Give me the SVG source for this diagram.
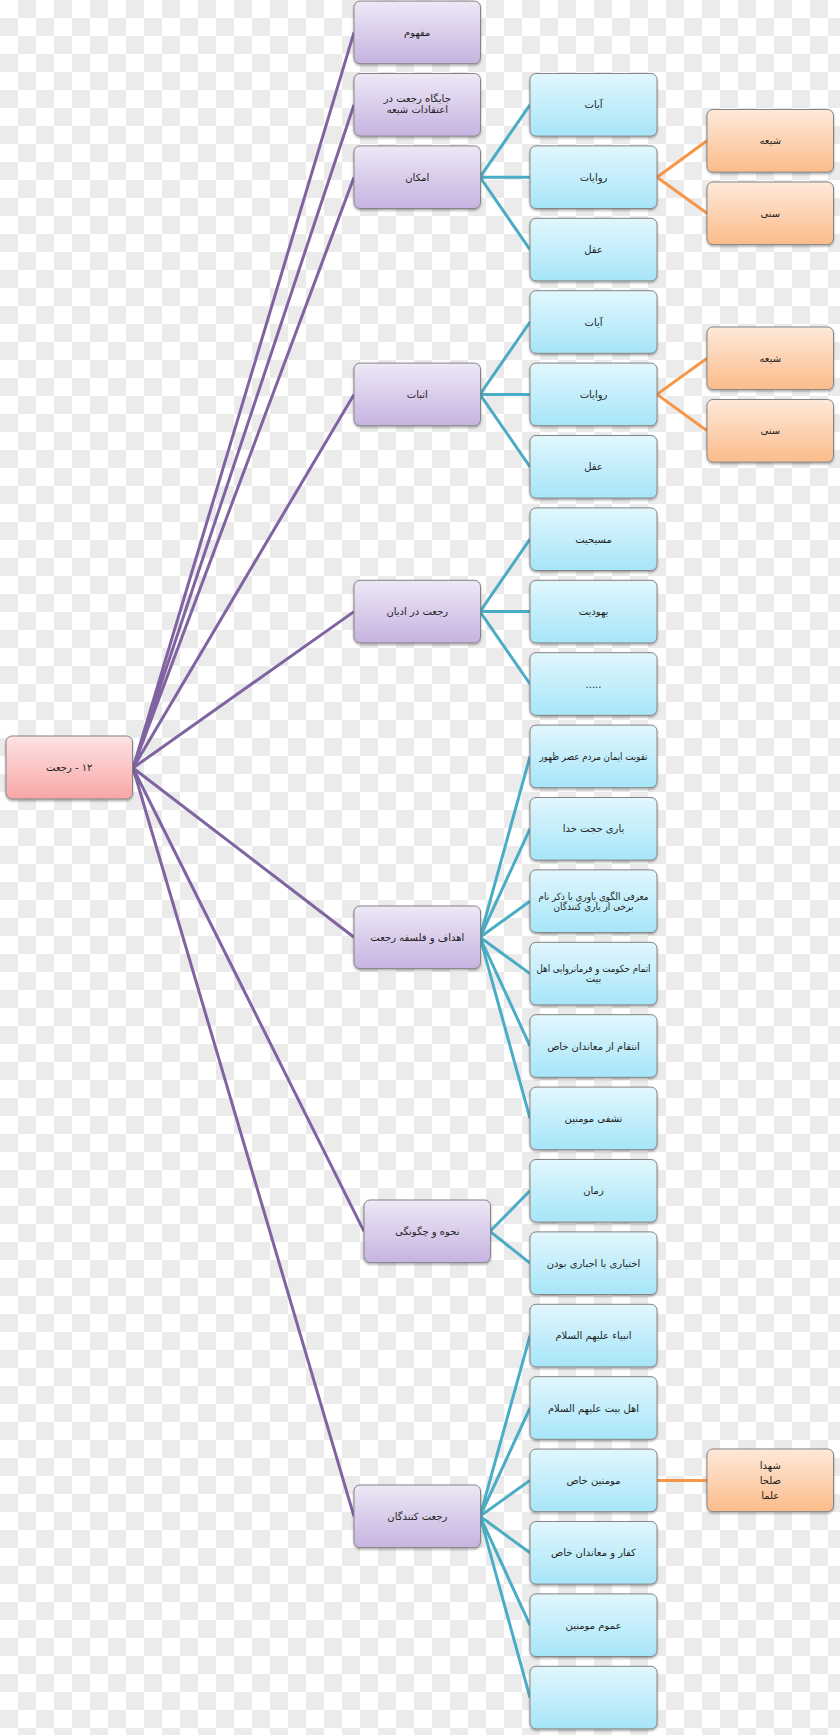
<svg xmlns="http://www.w3.org/2000/svg" width="840" height="1735" viewBox="0 0 840 1735">
<defs>
<pattern id="chk" width="36" height="36" patternUnits="userSpaceOnUse">
<rect width="36" height="36" fill="#ffffff"/>
<rect x="18" y="0" width="18" height="18" fill="#ebebeb"/>
<rect x="0" y="18" width="18" height="18" fill="#ebebeb"/>
</pattern>
<linearGradient id="gPink" x1="0" y1="0" x2="0" y2="1"><stop offset="0" stop-color="#fde3e3"/><stop offset="1" stop-color="#f8a6a6"/></linearGradient>
<linearGradient id="gPurple" x1="0" y1="0" x2="0" y2="1"><stop offset="0" stop-color="#eee8f6"/><stop offset="1" stop-color="#c6b3e0"/></linearGradient>
<linearGradient id="gBlue" x1="0" y1="0" x2="0" y2="1"><stop offset="0" stop-color="#e2f7fd"/><stop offset="1" stop-color="#a6e5f8"/></linearGradient>
<linearGradient id="gOrange" x1="0" y1="0" x2="0" y2="1"><stop offset="0" stop-color="#fee9da"/><stop offset="1" stop-color="#fbbc8a"/></linearGradient>
<filter id="sh" x="-10%" y="-10%" width="120%" height="130%">
<feDropShadow dx="0" dy="1.5" stdDeviation="1" flood-color="#000" flood-opacity="0.35"/>
</filter>
</defs>
<style>
.bx{stroke:#858585;stroke-width:1;filter:url(#sh)}
.pk{fill:url(#gPink)}
.pu{fill:url(#gPurple)}
.bl{fill:url(#gBlue)}
.or{fill:url(#gOrange)}
text{font-family:"DejaVu Sans","Noto Sans",sans-serif;font-size:10px;fill:#1e1e1e;text-anchor:middle;direction:rtl;unicode-bidi:embed}
.cp{stroke:#8064a2;stroke-width:3;fill:none}
.cb{stroke:#4bacc6;stroke-width:3;fill:none}
.co{stroke:#f79646;stroke-width:3;fill:none}
</style>
<rect width="840" height="1735" fill="url(#chk)"/>

<g id="connectors">
<path class="cp" d="M133 768L354 32.4M133 768L354 104.8M133 768L354 177.2M133 768L354 394.4M133 768L354 611.6M133 768L354 937.3M133 768L364 1231.3M133 768L354 1516.3"/>
<path class="cb" d="M480 177.2L530 104.8M480 177.2L530 177.2M480 177.2L530 249.6"/>
<path class="cb" d="M480 394.4L530 322M480 394.4L530 394.4M480 394.4L530 466.8"/>
<path class="cb" d="M480 611.6L530 539.2M480 611.6L530 611.6M480 611.6L530 684"/>
<path class="cb" d="M480 937.3L530 756.4M480 937.3L530 828.8M480 937.3L530 901.2M480 937.3L530 973.6M480 937.3L530 1046M480 937.3L530 1118.4"/>
<path class="cb" d="M490 1231.3L530 1190.8M490 1231.3L530 1263.2"/>
<path class="cb" d="M480 1516.3L530 1335.6M480 1516.3L530 1408M480 1516.3L530 1480.4M480 1516.3L530 1552.8M480 1516.3L530 1625.2M480 1516.3L530 1697.6"/>
<path class="co" d="M657 177.2L707 140.8M657 177.2L707 213.3"/>
<path class="co" d="M657 394.4L707 358.3M657 394.4L707 430.8"/>
<path class="co" d="M657 1480.4L707 1480.4"/>
</g>

<g id="root"><rect class="bx pk" x="6" y="736" width="126.5" height="63" rx="6"/><text x="69.3" y="771">۱۲ - رجعت</text></g>

<g id="p1"><rect class="bx pu" x="354" y="1.1" width="126.5" height="62.6" rx="6"/><text x="417.3" y="35.9">مفهوم</text></g>
<g id="p2"><rect class="bx pu" x="354" y="73.5" width="126.5" height="62.6" rx="6"/><text x="417.3" y="102">جایگاه رجعت در</text><text x="417.3" y="113">اعتقادات شیعه</text></g>
<g id="p3"><rect class="bx pu" x="354" y="145.9" width="126.5" height="62.6" rx="6"/><text x="417.3" y="180.7">امکان</text></g>
<g id="p4"><rect class="bx pu" x="354" y="363.1" width="126.5" height="62.6" rx="6"/><text x="417.3" y="397.9">اثبات</text></g>
<g id="p5"><rect class="bx pu" x="354" y="580.3" width="126.5" height="62.6" rx="6"/><text x="417.3" y="615.1">رجعت در ادیان</text></g>
<g id="p6"><rect class="bx pu" x="354" y="906" width="126.5" height="62.6" rx="6"/><text x="417.3" y="940.8">اهداف و فلسفه رجعت</text></g>
<g id="p7"><rect class="bx pu" x="364" y="1200" width="126.5" height="62.6" rx="6"/><text x="427.3" y="1234.8">نحوه و  چگونگی</text></g>
<g id="p8"><rect class="bx pu" x="354" y="1485" width="126.5" height="62.6" rx="6"/><text x="417.3" y="1519.8">رجعت کنندگان</text></g>

<g id="b0"><rect class="bx bl" x="530" y="73.5" width="127" height="62.6" rx="6"/><text x="593.5" y="108.3">آیات</text></g>
<g id="b1"><rect class="bx bl" x="530" y="145.9" width="127" height="62.6" rx="6"/><text x="593.5" y="180.7">روایات</text></g>
<g id="b2"><rect class="bx bl" x="530" y="218.3" width="127" height="62.6" rx="6"/><text x="593.5" y="253.1">عقل</text></g>
<g id="b3"><rect class="bx bl" x="530" y="290.7" width="127" height="62.6" rx="6"/><text x="593.5" y="325.5">آیات</text></g>
<g id="b4"><rect class="bx bl" x="530" y="363.1" width="127" height="62.6" rx="6"/><text x="593.5" y="397.9">روایات</text></g>
<g id="b5"><rect class="bx bl" x="530" y="435.5" width="127" height="62.6" rx="6"/><text x="593.5" y="470.3">عقل</text></g>
<g id="b6"><rect class="bx bl" x="530" y="507.9" width="127" height="62.6" rx="6"/><text x="593.5" y="542.7">مسیحیت</text></g>
<g id="b7"><rect class="bx bl" x="530" y="580.3" width="127" height="62.6" rx="6"/><text x="593.5" y="615.1">یهودیت</text></g>
<g id="b8"><rect class="bx bl" x="530" y="652.7" width="127" height="62.6" rx="6"/><text x="593.5" y="687.5">.....</text></g>
<g id="b9"><rect class="bx bl" x="530" y="725.1" width="127" height="62.6" rx="6"/><text x="593.5" y="759.9" textLength="108" lengthAdjust="spacingAndGlyphs">تقویت ایمان مردم عصر ظهور</text></g>
<g id="b10"><rect class="bx bl" x="530" y="797.5" width="127" height="62.6" rx="6"/><text x="593.5" y="832.3">یاری حجت خدا</text></g>
<g id="b11"><rect class="bx bl" x="530" y="869.9" width="127" height="62.6" rx="6"/><text x="593.5" y="899.5" textLength="110" lengthAdjust="spacingAndGlyphs">معرفی الگوی یاوری با ذکر نام</text><text x="593.5" y="910" textLength="80" lengthAdjust="spacingAndGlyphs">برخی از یاری کنندگان</text></g>
<g id="b12"><rect class="bx bl" x="530" y="942.3" width="127" height="62.6" rx="6"/><text x="593.5" y="971.5" textLength="114" lengthAdjust="spacingAndGlyphs">اتمام حکومت و   فرمانروایی اهل</text><text x="593.5" y="982">بیت</text></g>
<g id="b13"><rect class="bx bl" x="530" y="1014.7" width="127" height="62.6" rx="6"/><text x="593.5" y="1049.5">انتقام از معاندان خاص</text></g>
<g id="b14"><rect class="bx bl" x="530" y="1087.1" width="127" height="62.6" rx="6"/><text x="593.5" y="1121.9">تشفی مومنین</text></g>
<g id="b15"><rect class="bx bl" x="530" y="1159.5" width="127" height="62.6" rx="6"/><text x="593.5" y="1194.3">زمان</text></g>
<g id="b16"><rect class="bx bl" x="530" y="1231.9" width="127" height="62.6" rx="6"/><text x="593.5" y="1266.7">اختیاری یا اجباری بودن</text></g>
<g id="b17"><rect class="bx bl" x="530" y="1304.3" width="127" height="62.6" rx="6"/><text x="593.5" y="1339.1">انبیاء علیهم السلام</text></g>
<g id="b18"><rect class="bx bl" x="530" y="1376.7" width="127" height="62.6" rx="6"/><text x="593.5" y="1411.5">اهل بیت علیهم السلام</text></g>
<g id="b19"><rect class="bx bl" x="530" y="1449.1" width="127" height="62.6" rx="6"/><text x="593.5" y="1483.9">مومنین خاص</text></g>
<g id="b20"><rect class="bx bl" x="530" y="1521.5" width="127" height="62.6" rx="6"/><text x="593.5" y="1556.3">کفار و معاندان خاص</text></g>
<g id="b21"><rect class="bx bl" x="530" y="1593.9" width="127" height="62.6" rx="6"/><text x="593.5" y="1628.7">عموم مومنین</text></g>
<g id="b22"><rect class="bx bl" x="530" y="1666.3" width="127" height="62.6" rx="6"/></g>

<g id="o1"><rect class="bx or" x="707" y="109.5" width="126.5" height="62.6" rx="6"/><text x="770.3" y="144.3">شیعه</text></g>
<g id="o2"><rect class="bx or" x="707" y="182" width="126.5" height="62.6" rx="6"/><text x="770.3" y="216.8">سنی</text></g>
<g id="o3"><rect class="bx or" x="707" y="327" width="126.5" height="62.6" rx="6"/><text x="770.3" y="361.8">شیعه</text></g>
<g id="o4"><rect class="bx or" x="707" y="399.5" width="126.5" height="62.6" rx="6"/><text x="770.3" y="434.3">سنی</text></g>
<g id="o5"><rect class="bx or" x="707" y="1449" width="126.5" height="62.6" rx="6"/><text x="770.3" y="1468.5">شهدا</text><text x="770.3" y="1483.5">صلحا</text><text x="770.3" y="1498.5">علما</text></g>
</svg>
